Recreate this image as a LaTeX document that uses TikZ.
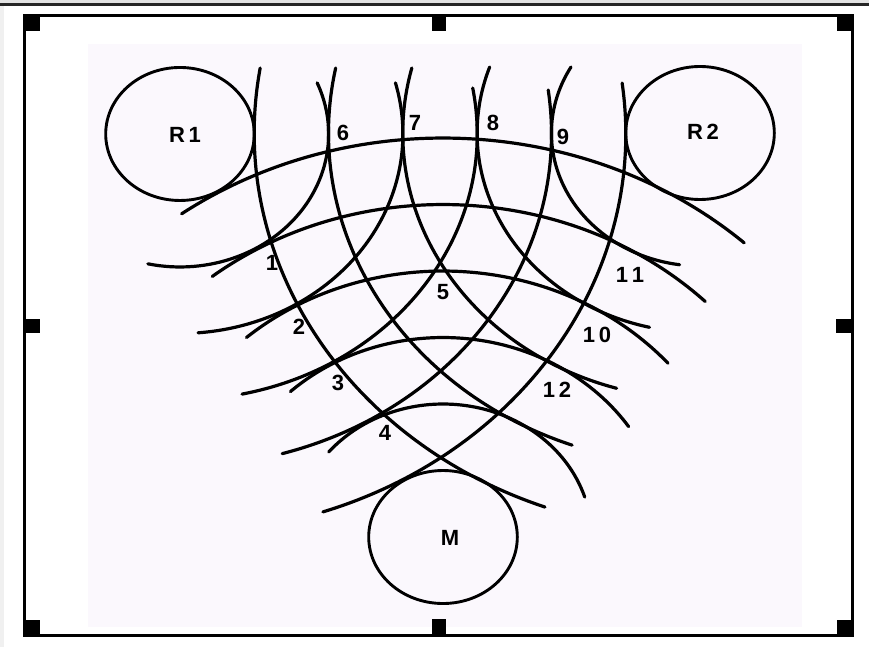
\documentclass[tikz,border=0pt]{standalone}
\usepackage{fontspec}
\setmainfont{Liberation Sans}
\definecolor{bglav}{RGB}{251,248,253}
\def\rrad{74.3}
\newcommand\wavearc[4]{\draw[wave] (#1) ++({#3}:{#2*\rrad}) arc[start angle={#3}, end angle={#4}, radius={#2*\rrad}];}
\begin{document}
\begin{tikzpicture}[x=1pt,y=-1pt,
  wave/.style={line width=3.2pt, line cap=round},
  src/.style={line width=2.9pt},
  lab/.style={font=\fontsize{22}{26}\selectfont\bfseries, inner sep=0pt},
  handle/.style={fill=black}]
\useasboundingbox (0,0) rectangle (869,647);
% screen decoration
\fill[gray!22] (0,0) rectangle (869,3.2);
\draw[black!85, line width=2.4pt] (0,4.6) -- (869,4.6);
\fill[gray!12] (0,6) rectangle (4,647);
\fill[bglav] (88,44) rectangle (802,627);
\draw[line width=3pt] (24.5,15.3) rectangle (852,635.3);
\fill[handle] (23,14) rectangle (40,31);
\fill[handle] (432,14) rectangle (446,31);
\fill[handle] (837,14) rectangle (853,31);
\fill[handle] (23,319) rectangle (40,333);
\fill[handle] (836,319) rectangle (853,333);
\fill[handle] (23,620) rectangle (40,636);
\fill[handle] (432,619) rectangle (446,636);
\fill[handle] (837,620) rectangle (853,636);
% wave diagram (true space, squashed vertically)
\begin{scope}[yscale=0.895]
  \coordinate (R1c) at (180,149.7);
  \coordinate (R2c) at (700,148.6);
  \coordinate (Mc) at (443,600);
  \draw[src] (R1c) circle[radius=\rrad];
  \draw[src] (R2c) circle[radius=\rrad];
  \draw[src] (Mc) circle[radius=\rrad];
  % family around R2
  \wavearc{R2c}{6}{110.36}{189.37}
  \wavearc{R2c}{5}{110.14}{191.27}
  \wavearc{R2c}{4}{106.3}{194.14}
  \wavearc{R2c}{3}{103.1}{199.31}
  \wavearc{R2c}{2}{97.9}{209.73}
  % family around R1
  \wavearc{R1c}{2}{-22.6}{102.5}
  \wavearc{R1c}{3}{-14.85}{85.35}
  \wavearc{R1c}{4}{-9.95}{77.95}
  \wavearc{R1c}{5}{-7.6}{74.03}
  \wavearc{R1c}{6}{-7.33}{71.3}
  % family around M
  \wavearc{Mc}{2}{-140.3}{-17.5}
  \wavearc{Mc}{3}{-133.2}{-33.6}
  \wavearc{Mc}{4}{-131.4}{-40.8}
  \wavearc{Mc}{5}{-128.4}{-45.1}
  \wavearc{Mc}{6}{-125.9}{-47.5}
\end{scope}
% labels
\node[lab] (lR1) at (185,135) {R\,1};
\node[lab] (lR2) at (703,132) {R\,2};
\node[lab] (lM) at (450,538) {M};
\node[lab] (l1) at (272,263) {1};
\node[lab] (l2) at (299,327) {2};
\node[lab] (l3) at (338,383) {3};
\node[lab] (l4) at (385,433) {4};
\node[lab] (l5) at (443,292) {5};
\node[lab] (l6) at (343,133) {6};
\node[lab] (l7) at (415,123) {7};
\node[lab] (l8) at (493,123) {8};
\node[lab] (l9) at (563,137) {9};
\node[lab] (l10) at (597,335) {1\,0};
\node[lab] (l11) at (630,275) {1\,1};
\node[lab] (l12) at (557,390) {1\,2};
\end{tikzpicture}
\end{document}
